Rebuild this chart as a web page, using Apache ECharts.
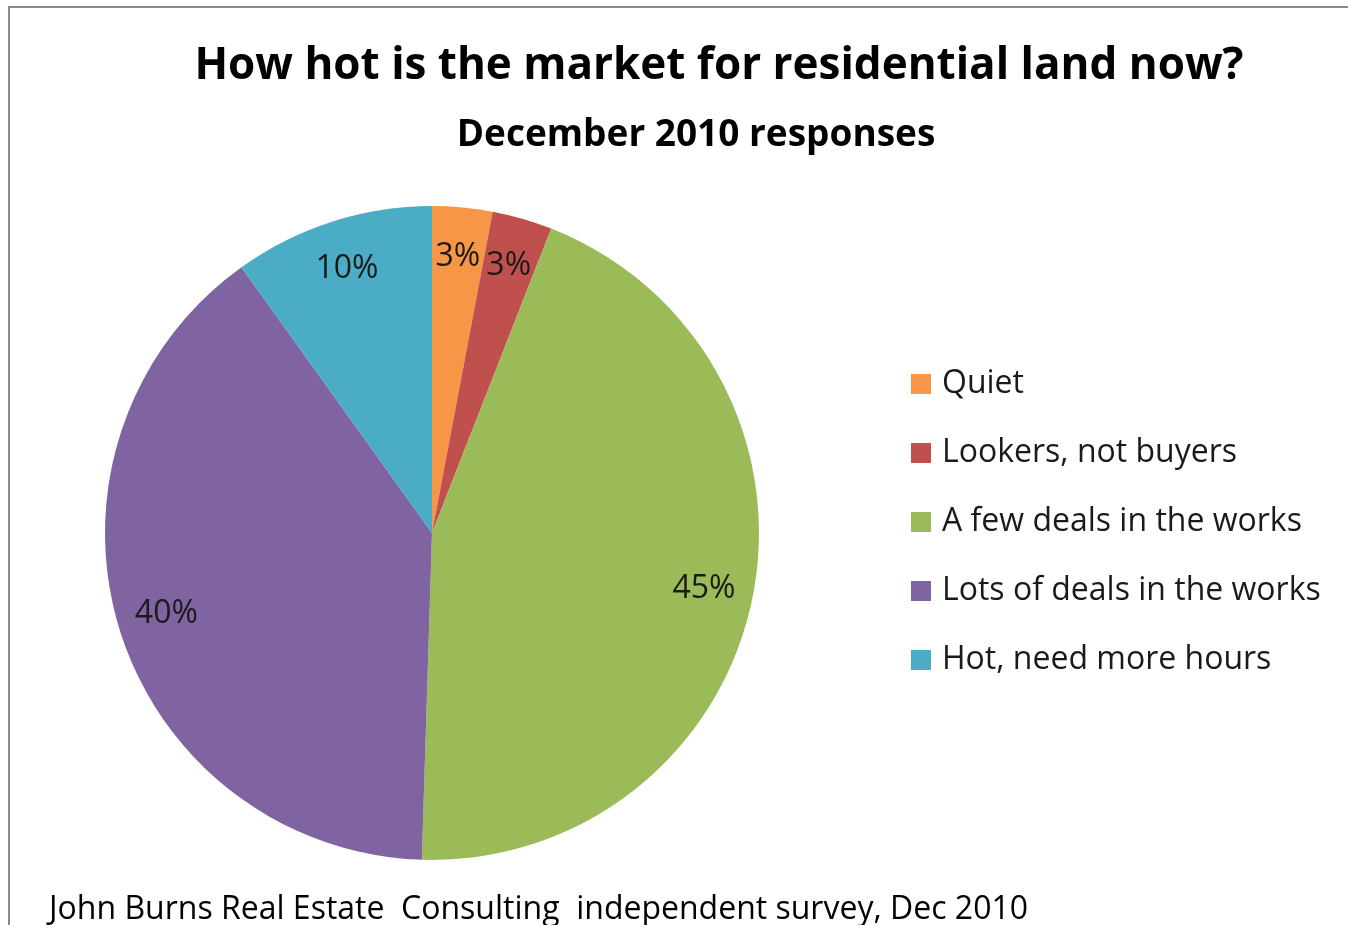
<!DOCTYPE html>
<html>
<head>
<meta charset="utf-8">
<title>How hot is the market for residential land now?</title>
<script src="https://cdn.jsdelivr.net/npm/echarts@6/dist/echarts.min.js"></script>
<style>
  html, body { margin: 0; padding: 0; background: #fff; }
  #frame {
    position: absolute; left: 8px; top: 6px; width: 1340px; height: 919px;
    border-left: 2px solid #8a8a8a; border-top: 2px solid #8a8a8a;
  }
  #chart { position: absolute; left: 0; top: 0; width: 1348px; height: 925px; }
</style>
</head>
<body>
<div id="frame"></div>
<div id="chart"></div>
<script>
// Survey answers, December 2010 (percent of responses)
const categories = ['Quiet', 'Lookers, not buyers', 'A few deals in the works', 'Lots of deals in the works', 'Hot, need more hours'];
const shares = [3, 3, 45, 40, 10];
const colors = ['#F79646', '#C0504D', '#9BBB59', '#8064A2', '#4BACC6'];

const titleText = 'How hot is the market for residential land now?';
const subtitleText = 'December 2010 responses';
const sourceText = 'John Burns Real Estate  Consulting  independent survey, Dec 2010';

const FONT = '"Open Sans", Lato, sans-serif';
const CENTER = [432, 533];
const R = 327;

const pieData = categories.map((name, i) => ({ name, value: shares[i], itemStyle: { color: colors[i] } }));

const chart = echarts.init(document.getElementById('chart'), null, { renderer: 'canvas' });
chart.setOption({
  animation: false,
  backgroundColor: 'transparent',
  title: [
    { text: titleText, left: 714, top: 39, textAlign: 'center',
      textStyle: { fontFamily: FONT, fontSize: 44, fontWeight: 'bold', color: '#000' } },
    { text: subtitleText, left: 691, top: 112, textAlign: 'center',
      textStyle: { fontFamily: FONT, fontSize: 37, fontWeight: 'bold', color: '#000' } },
    { text: sourceText, left: 44, top: 889,
      textStyle: { fontFamily: FONT, fontSize: 32, fontWeight: 'normal', color: '#000' } }
  ],
  legend: {
    orient: 'vertical', left: 911, top: 368, padding: 0,
    data: categories,
    icon: 'rect', itemWidth: 20, itemHeight: 20, itemGap: 37,
    selectedMode: false,
    textStyle: { fontFamily: FONT, fontSize: 32, lineHeight: 32, color: '#1a1a1a', padding: [0, 0, 0, 6] }
  },
  series: [
    {
      type: 'pie', name: 'responses',
      center: CENTER, radius: R,
      startAngle: 90, clockwise: true,
      silent: true,
      label: { show: false }, labelLine: { show: false },
      data: pieData
    },
    {
      // label ring: labels sit near the outer edge of each slice
      type: 'pie', name: 'labels',
      center: CENTER, radius: [R * 0.68, R],
      startAngle: 90, clockwise: true,
      silent: true,
      itemStyle: { color: 'rgba(0,0,0,0)' },
      label: {
        show: true, position: 'inside',
        formatter: p => shares[p.dataIndex] + '%',
        fontFamily: FONT, fontSize: 32, color: '#1a1a1a'
      },
      labelLine: { show: false },
      data: categories.map((name, i) => ({ name, value: shares[i] }))
    }
  ]
});
</script>
</body>
</html>
